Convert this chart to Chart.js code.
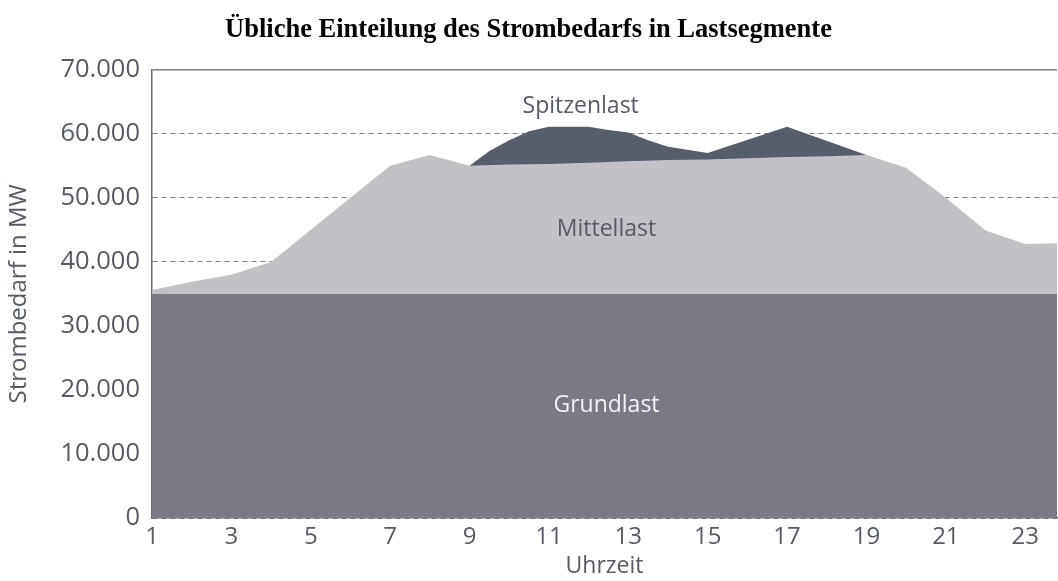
<!DOCTYPE html>
<html lang="de">
<head>
  <meta charset="UTF-8">
  <title>Lastsegmente</title>
  <script src="https://cdn.jsdelivr.net/npm/chart.js"></script>
  <style>
    html, body { margin: 0; padding: 0; background: #fff; }
    #wrap { width: 1058px; height: 581px; }
  </style>
</head>
<body>
  <div id="wrap">
    <canvas id="lastChart" width="1058" height="581"></canvas>
  </div>

  <script>
    // Werte
    const hourTicks = [1, 3, 5, 7, 9, 11, 13, 15, 17, 19, 21, 23];

    const grundHours = [1, 23.8];
    const grundValues = [35000, 35000];

    const mittelHours = [1, 2, 3, 4, 5, 6, 7, 8, 9, 10, 11, 12, 13, 14, 15, 16, 17, 18, 19, 20, 21, 22, 23, 23.8];
    const mittelValues = [35600, 36900, 38000, 40000, 45000, 50000, 55000, 56700, 55000, 55200, 55300, 55500,
                          55700, 55900, 56000, 56200, 56400, 56500, 56700, 54700, 50000, 44900, 42800, 42900];

    const spitzenHours = [9, 9.5, 10, 10.5, 11, 12, 12.5, 13, 13.5, 14, 15, 17, 19];
    const spitzenValues = [55000, 57300, 59000, 60400, 61100, 61100, 60600, 60200, 59000, 58000, 57000, 61100, 56700];

    const toPoints = (xs, ys) => xs.map((x, i) => ({ x: x, y: ys[i] }));

    const textColor = '#555a64';

    function formatDe(v) {
      return String(v).replace(/\B(?=(\d{3})+(?!\d))/g, '.');
    }

    // Beschriftung der Flächen
    const areaLabels = {
      id: 'areaLabels',
      afterDatasetsDraw(chart, args, opts) {
        const { ctx, scales } = chart;
        ctx.save();
        ctx.font = "23px 'Open Sans', sans-serif";
        ctx.textAlign = 'center';
        ctx.textBaseline = 'middle';
        opts.items.forEach(item => {
          ctx.fillStyle = item.color;
          ctx.fillText(item.text, scales.x.getPixelForValue(item.x), scales.y.getPixelForValue(item.y));
        });
        ctx.restore();
      }
    };

    Chart.defaults.font.family = "'Open Sans', sans-serif";

    new Chart(document.getElementById('lastChart'), {
      type: 'line',
      data: {
        datasets: [
          {
            label: 'Grundlast',
            data: toPoints(grundHours, grundValues),
            backgroundColor: '#7a7a84',
            fill: 'origin'
          },
          {
            label: 'Mittellast',
            data: toPoints(mittelHours, mittelValues),
            backgroundColor: '#c3c1c6',
            fill: 'origin'
          },
          {
            label: 'Spitzenlast',
            data: toPoints(spitzenHours, spitzenValues),
            backgroundColor: '#575e6b',
            fill: 'origin'
          }
        ]
      },
      options: {
        responsive: false,
        animation: false,
        elements: {
          line: { borderWidth: 0, tension: 0 },
          point: { radius: 0 }
        },
        layout: { padding: { right: 1 } },
        plugins: {
          legend: { display: false },
          tooltip: { enabled: false },
          title: {
            display: true,
            text: 'Übliche Einteilung des Strombedarfs in Lastsegmente',
            color: '#000',
            font: { family: "'Liberation Serif', 'Times New Roman', serif", size: 26.5, weight: 'bold' },
            padding: { top: 14, bottom: 24 }
          },
          areaLabels: {
            items: [
              { text: 'Spitzenlast', x: 11.8, y: 64200, color: '#555b67' },
              { text: 'Mittellast', x: 12.45, y: 45100, color: '#555b67' },
              { text: 'Grundlast', x: 12.45, y: 17500, color: '#f3f3f5' }
            ]
          }
        },
        scales: {
          x: {
            type: 'linear',
            min: 1,
            max: 23.8,
            afterBuildTicks: axis => { axis.ticks = hourTicks.map(v => ({ value: v })); },
            afterFit: axis => { axis.height = 63; },
            grid: { display: false, drawTicks: false },
            border: { display: true, color: '#666a74', width: 1.5 },
            ticks: { color: textColor, font: { size: 24 }, padding: 5, maxRotation: 0, autoSkip: false },
            title: { display: true, text: 'Uhrzeit', color: textColor, font: { size: 23 }, padding: { top: 0, bottom: 1 } }
          },
          y: {
            min: 0,
            max: 70000,
            afterFit: axis => { axis.width = 152; },
            grid: {
              drawTicks: false,
              color: '#7b7f8a',
              lineWidth: c => (c.tick && c.tick.value === 70000 ? 1.5 : 1)
            },
            border: {
              display: true,
              color: '#666a74',
              width: 1.5,
              dash: c => (c.tick && c.tick.value === 70000 ? [] : [5, 4])
            },
            ticks: {
              stepSize: 10000,
              color: textColor,
              font: { size: 25.5 },
              padding: 12,
              callback: v => formatDe(v)
            },
            title: { display: true, text: 'Strombedarf in MW', color: textColor, font: { size: 24 }, padding: { top: 5, bottom: 4 } }
          }
        }
      },
      plugins: [areaLabels]
    });
  </script>
</body>
</html>
